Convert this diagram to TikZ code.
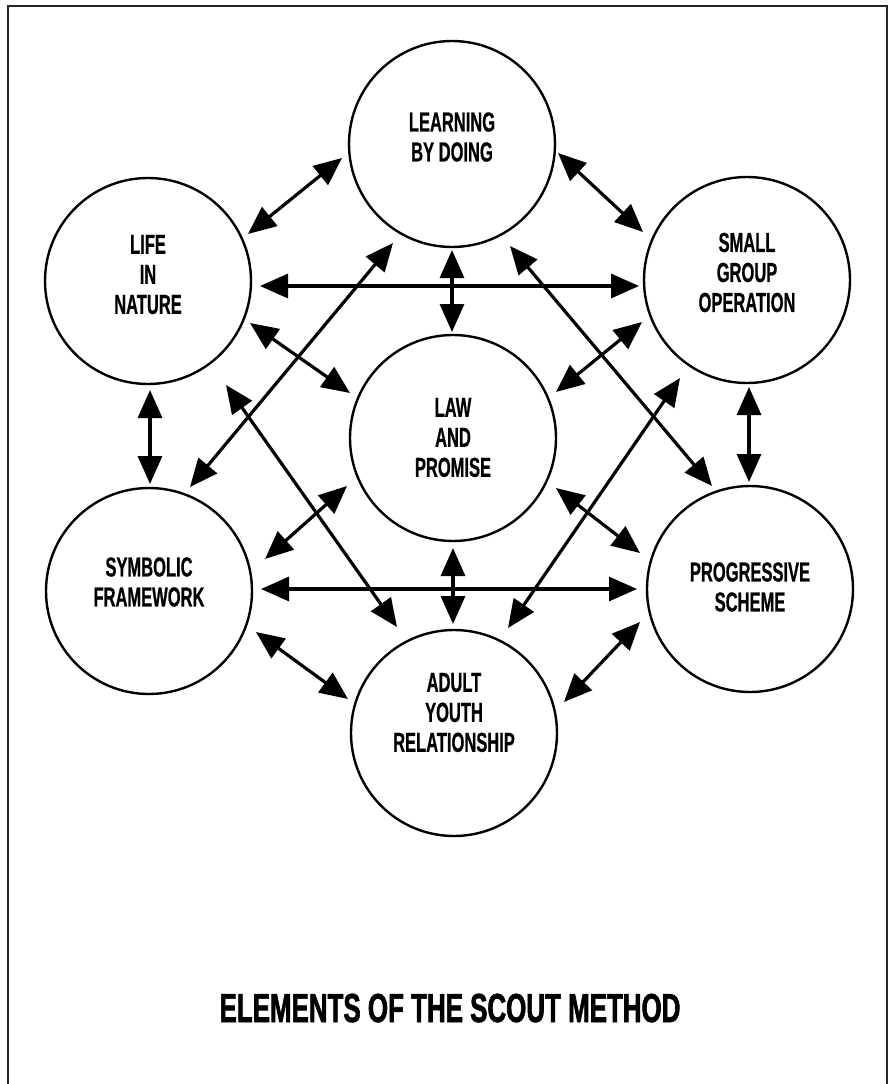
\documentclass[tikz,border=0pt]{standalone}
\usepackage{fontspec}
\usetikzlibrary{arrows.meta,calc}
% condensed sans for the element names and the caption
\newfontfamily\lblfont{Liberation Sans}[FakeStretch=0.60, BoldFeatures={FakeBold=0.6}]
\newfontfamily\ttlfont{Liberation Sans}[FakeStretch=0.64, BoldFeatures={FakeBold=1.6}]
\begin{document}
\begin{tikzpicture}[x=1pt,y=-1pt,
  elem/.style={circle,draw=black,line width=2.4pt,minimum size=206pt,inner sep=0pt},
  elemtext/.style={align=center,inner sep=0pt,
    font=\lblfont\bfseries\fontsize{27.5}{30}\selectfont},
  link/.style={line width=3.2pt,
    {Triangle[length=28pt,width=24pt]}-{Triangle[length=28pt,width=24pt]}},
  frame/.style={line width=2.6pt,draw=black!85}]
\useasboundingbox (0,0) rectangle (891,1084);

% page frame, open at the bottom
\draw[frame] (8,1084) -- (8,6) -- (887,6) -- (887,1084);

% the seven elements
\node[elem] (learn) at (452,144) {};
\node[elem] (life)  at (148,281) {};
\node[elem] (small) at (747,280) {};
\node[elem] (law)   at (453,438) {};
\node[elem] (symb)  at (149,591) {};
\node[elem] (prog)  at (750,589) {};
\node[elem] (adult) at (454,733) {};

\node[elemtext] (learn-t) at (452,137)   {LEARNING\\BY DOING};
\node[elemtext] (life-t)  at (148,274.5) {LIFE\\IN\\NATURE};
\node[elemtext] (small-t) at (747,272.5) {SMALL\\GROUP\\OPERATION};
\node[elemtext] (law-t)   at (453,437.5) {LAW\\AND\\PROMISE};
\node[elemtext] (symb-t)  at (149,582)   {SYMBOLIC\\FRAMEWORK};
\node[elemtext] (prog-t)  at (750,587)   {PROGRESSIVE\\SCHEME};
\node[elemtext] (adult-t) at (454,712.5) {ADULT\\YOUTH\\RELATIONSHIP};

% two-way links between the elements
\draw[link] ($(life)+(100,-47)$)  -- ($(learn)+(-110,14)$);
\draw[link] ($(learn)+(106,9)$)   -- ($(small)+(-104,-48)$);
\draw[link] ($(life)+(112,5)$)    -- ($(small)+(-108,6)$);
\draw[link] ($(learn)+(0,106)$)   -- ($(law)+(-1,-106)$);
\draw[link] ($(learn)+(-59,99)$)  -- ($(symb)+(41,-104)$);
\draw[link] ($(learn)+(58,102)$)  -- ($(prog)+(-38,-103)$);
\draw[link] ($(life)+(102,42)$)   -- ($(law)+(-103,-45)$);
\draw[link] ($(small)+(-105,42)$) -- ($(law)+(103,-46)$);
\draw[link] ($(life)+(2,109)$)    -- ($(symb)+(1,-107)$);
\draw[link] ($(small)+(2,107)$)   -- ($(prog)+(-1,-107)$);
\draw[link] ($(life)+(78,104)$)   -- ($(adult)+(-57,-106)$);
\draw[link] ($(small)+(-67,98)$)  -- ($(adult)+(54,-105)$);
\draw[link] ($(law)+(-106,48)$)   -- ($(symb)+(116,-32)$);
\draw[link] ($(law)+(103,50)$)    -- ($(prog)+(-110,-36)$);
\draw[link] ($(symb)+(112,-2)$)   -- ($(prog)+(-113,0)$);
\draw[link] ($(law)+(0,110)$)     -- ($(adult)+(-1,-109)$);
\draw[link] ($(symb)+(107,41)$)   -- ($(adult)+(-106,-34)$);
\draw[link] ($(prog)+(-110,33)$)  -- ($(adult)+(110,-31)$);

% caption
\node[anchor=base,inner sep=0pt,font=\ttlfont\bfseries\fontsize{40.5}{44}\selectfont]
  (title) at (450,1022) {ELEMENTS OF THE SCOUT METHOD};
\end{tikzpicture}
\end{document}
